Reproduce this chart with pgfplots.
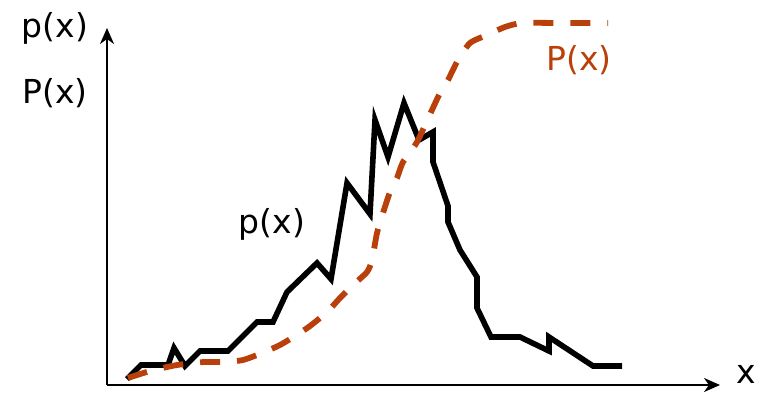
\documentclass[border=0pt]{standalone}
\usepackage{pgfplots}
\pgfplotsset{compat=1.18}
\usepackage{fontspec}
\setmainfont{DejaVu Sans}
\usetikzlibrary{arrows.meta}
\definecolor{cdf}{RGB}{185,64,10}
\begin{document}
\begin{tikzpicture}
\begin{axis}[
  x=0.5pt, y=0.5pt,
  xmin=107, xmax=720, ymin=7, ymax=364,
  axis lines=left,
  axis line style={line width=1pt, -{Stealth[length=8pt,width=7pt,inset=2.5pt]}},
  ticks=none,
  clip=false,
  font=\fontsize{16.5pt}{18pt}\selectfont,
  every node/.append style={inner sep=0pt},
]
\coordinate (bl) at (axis cs:0,0);
\coordinate (tr) at (axis cs:758,392);
\addplot[black, line width=2.8pt, no markers] coordinates {
(127,13) (141,27) (168,27) (174,44) (185,26) (200,41) (228,41) (257,70) (273,70) (287,100) (317,129) (331,113) (347,209) (370,178) (375,272) (388,235) (404,289) (419,252) (433,260) (433,230) (448,186) (448,170) (460,142) (477,115) (477,84) (491,55) (520,55) (549,41) (549,55) (593,26) (622,26)
};
\addplot[cdf, line width=2.9pt, no markers, smooth, tension=0.4, dash pattern=on 10pt off 8.5pt] coordinates {
(128,14) (150,21) (177,27) (204,30) (225,30) (243,32) (262,39) (280,47) (295,56) (310,66) (327,80) (340,94) (353,107) (367,120) (372,132) (377,159) (383,179) (390,200) (397,214) (403,230) (417,250) (432,282) (440,299) (448,312) (458,332) (470,349) (487,357) (505,365) (522,369) (560,369) (608,369)
};
\node at (axis cs:55,364) {p(x)};
\node at (axis cs:55,299) {P(x)};
\node at (axis cs:746,18) {x};
\node at (axis cs:272,168) {p(x)};
\node[text=cdf] at (axis cs:579,332) {P(x)};
\end{axis}
\pgfresetboundingbox
\path (bl) rectangle (tr);
\end{tikzpicture}
\end{document}
